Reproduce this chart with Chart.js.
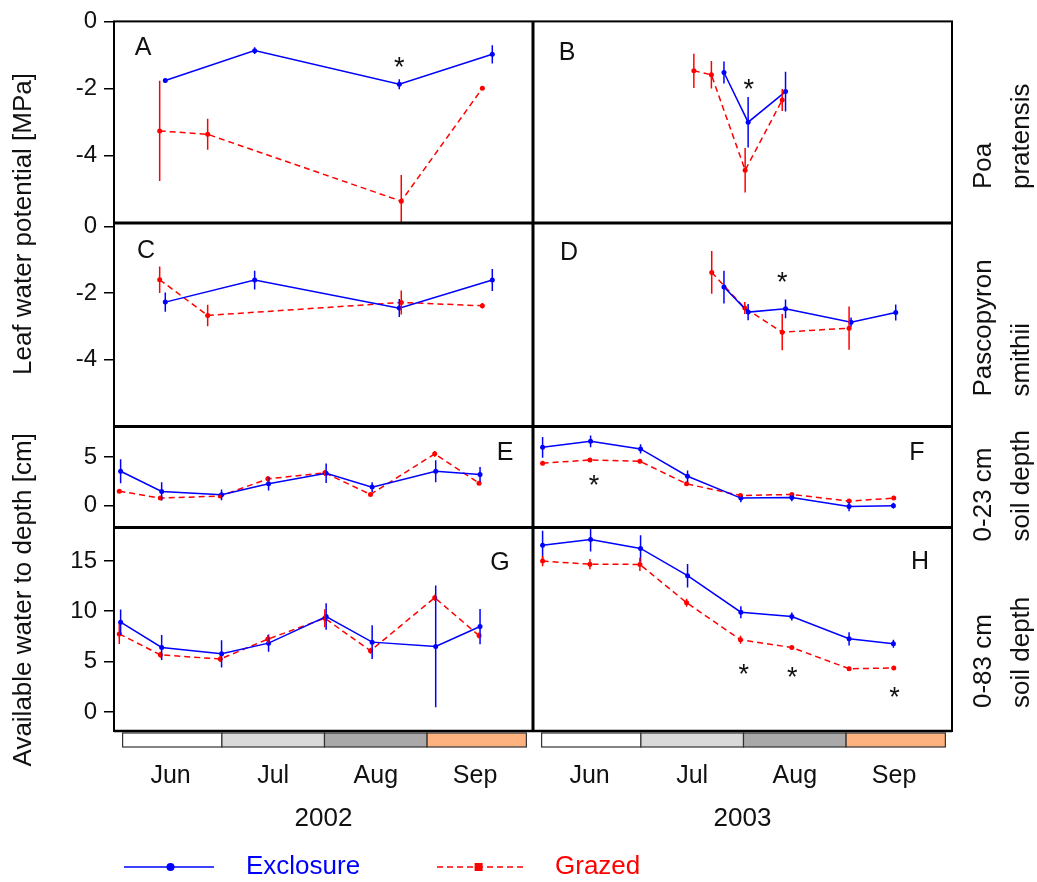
<!DOCTYPE html>
<html>
<head>
<meta charset="utf-8">
<title>Leaf water potential and available soil water</title>
<script src="https://cdn.jsdelivr.net/npm/chart.js@4.4.1/dist/chart.umd.min.js"></script>
<style>
  html, body { margin: 0; padding: 0; background: #fff; }
  #wrap { width: 1037px; height: 882px; }
</style>
</head>
<body>
<div id="wrap"><canvas id="fig" width="1037" height="882"></canvas></div>
<script>
// x values are days counted from 1 June of each season
const monthNames = ['Jun', 'Jul', 'Aug', 'Sep'];
const monthMid = [14.5, 45.5, 76.5, 106.5];
const monthEdges = [0, 30, 61, 92, 122];

const leafTicks = [0, -2, -4];
const soilTicks23 = [0, 5];
const soilTicks83 = [0, 5, 10, 15];

// 2002 leaf sampling dates
const leafExcDays2002 = [12.9, 39.9, 83.6, 111.7];
const leafGrzDays2002 = [11.2, 25.7, 84.2, 108.7];
// 2003 leaf sampling dates
const poaExcDays2003 = [55.1, 62.4, 73.7];
const poaGrzDays2003 = [46.0, 51.3, 61.5, 72.7];
const pascExcDays2003 = [55.1, 62.4, 73.7, 93.5, 107.0];
const pascGrzDays2003 = [51.4, 61.4, 72.7, 92.9];
// soil water dates
const soilExcDays2002 = [-0.6, 11.8, 29.9, 44.1, 61.5, 75.4, 94.6, 108.0];
const soilGrzDays2002 = [-1.0, 11.4, 29.5, 43.9, 61.1, 74.9, 94.3, 107.7];
const soilExcDays2003 = [0.3, 14.8, 29.9, 44.1, 60.2, 75.6, 92.9, 106.3];
const soilGrzDays2003 = [0.3, 14.6, 29.7, 43.8, 60.1, 75.6, 92.9, 106.4];

// Poa pratensis, leaf water potential (MPa) and SE
const poaExc2002 = [-1.76, -0.87, -1.87, -0.98];
const poaExcSe2002 = [0.05, 0.10, 0.15, 0.27];
const poaGrz2002 = [-3.26, -3.36, -5.35, -1.99];
const poaGrzSe2002 = [1.49, 0.46, 0.78, 0.05];
const poaExc2003 = [-1.52, -3.00, -2.09];
const poaExcSe2003 = [0.33, 0.75, 0.59];
const poaGrz2003 = [-1.47, -1.59, -4.43, -2.34];
const poaGrzSe2003 = [0.51, 0.41, 0.66, 0.33];

// Pascopyron smithii
const pascExc2002 = [-2.27, -1.61, -2.45, -1.61];
const pascExcSe2002 = [0.29, 0.28, 0.27, 0.33];
const pascGrz2002 = [-1.60, -2.67, -2.28, -2.38];
const pascGrzSe2002 = [0.40, 0.32, 0.36, 0.08];
const pascExc2003 = [-1.82, -2.57, -2.47, -2.87, -2.58];
const pascExcSe2003 = [0.49, 0.24, 0.28, 0.14, 0.24];
const pascGrz2003 = [-1.38, -2.45, -3.17, -3.05];
const pascGrzSe2003 = [0.64, 0.18, 0.54, 0.65];

// available water to 23 cm (cm)
const s23Exc2002 = [3.55, 1.45, 1.10, 2.24, 3.34, 1.90, 3.55, 3.20];
const s23ExcSe2002 = [1.24, 0.95, 0.55, 0.70, 1.00, 0.50, 1.15, 0.78];
const s23Grz2002 = [1.48, 0.76, 0.97, 2.76, 3.38, 1.14, 5.35, 2.31];
const s23GrzSe2002 = [0.20, 0.15, 0.15, 0.30, 0.30, 0.15, 0.30, 0.15];
const s23Exc2003 = [6.03, 6.65, 5.86, 3.03, 0.76, 0.83, -0.10, -0.03];
const s23ExcSe2003 = [1.07, 0.60, 0.48, 0.60, 0.43, 0.40, 0.50, 0.30];
const s23Grz2003 = [4.38, 4.72, 4.58, 2.24, 1.03, 1.14, 0.45, 0.76];
const s23GrzSe2003 = [0.20, 0.20, 0.20, 0.15, 0.15, 0.15, 0.10, 0.10];

// available water to 83 cm (cm)
const s83Exc2002 = [8.91, 6.40, 5.77, 6.83, 9.47, 6.93, 6.50, 8.48];
const s83ExcSe2002 = [1.27, 1.24, 1.35, 0.86, 1.32, 1.68, 6.05, 1.75];
const s83Grz2002 = [7.75, 5.67, 5.25, 7.23, 9.30, 6.07, 11.35, 7.58];
const s83GrzSe2002 = [1.00, 0.30, 0.30, 0.40, 0.90, 0.30, 0.30, 0.30];
const s83Exc2003 = [16.56, 17.13, 16.24, 13.53, 9.90, 9.47, 7.26, 6.76];
const s83ExcSe2003 = [1.44, 1.20, 1.32, 1.16, 0.60, 0.40, 0.66, 0.40];
const s83Grz2003 = [14.98, 14.68, 14.65, 10.85, 7.16, 6.40, 4.29, 4.36];
const s83GrzSe2003 = [0.50, 0.50, 0.66, 0.40, 0.40, 0.20, 0.20, 0.20];

// significant differences (x in days, y in panel units)
const starsA = [[83.6, -1.17]];
const starsB = [[62.6, -1.83]];
const starsD = [[72.7, -1.48]];
const starsF = [[15.8, 2.76]];
const starsH = [[61.1, 4.36], [75.7, 4.02], [106.6, 2.04]];

const BLUE = '#0000ff';
const RED = '#ff0000';
const FONT = "'Liberation Sans', Arial, sans-serif";

function series(days, vals, se, grazed, xID, yID) {
  const col = grazed ? RED : BLUE;
  return {
    data: days.map((d, i) => ({ x: d, y: vals[i] })),
    se: se,
    xAxisID: xID,
    yAxisID: yID,
    borderColor: col,
    backgroundColor: col,
    borderWidth: 1.5,
    borderDash: grazed ? [6, 4] : [],
    pointRadius: 2.5,
    pointBorderWidth: 0,
    pointBackgroundColor: col,
    pointHoverRadius: 0,
    tension: 0,
    fill: false
  };
}

const datasets = [
  series(leafExcDays2002, poaExc2002, poaExcSe2002, false, 'x2002', 'yA'),
  series(leafGrzDays2002, poaGrz2002, poaGrzSe2002, true, 'x2002', 'yA'),
  series(poaExcDays2003, poaExc2003, poaExcSe2003, false, 'x2003', 'yA'),
  series(poaGrzDays2003, poaGrz2003, poaGrzSe2003, true, 'x2003', 'yA'),
  series(leafExcDays2002, pascExc2002, pascExcSe2002, false, 'x2002', 'yC'),
  series(leafGrzDays2002, pascGrz2002, pascGrzSe2002, true, 'x2002', 'yC'),
  series(pascExcDays2003, pascExc2003, pascExcSe2003, false, 'x2003', 'yC'),
  series(pascGrzDays2003, pascGrz2003, pascGrzSe2003, true, 'x2003', 'yC'),
  series(soilExcDays2002, s23Exc2002, s23ExcSe2002, false, 'x2002', 'yE'),
  series(soilGrzDays2002, s23Grz2002, s23GrzSe2002, true, 'x2002', 'yE'),
  series(soilExcDays2003, s23Exc2003, s23ExcSe2003, false, 'x2003', 'yE'),
  series(soilGrzDays2003, s23Grz2003, s23GrzSe2003, true, 'x2003', 'yE'),
  series(soilExcDays2002, s83Exc2002, s83ExcSe2002, false, 'x2002', 'yG'),
  series(soilGrzDays2002, s83Grz2002, s83GrzSe2002, true, 'x2002', 'yG'),
  series(soilExcDays2003, s83Exc2003, s83ExcSe2003, false, 'x2003', 'yG'),
  series(soilGrzDays2003, s83Grz2003, s83GrzSe2003, true, 'x2003', 'yG')
];

function yAxis(min, max, tickVals, order, rowPx) {
  return {
    type: 'linear',
    position: 'left',
    stack: 'rows',
    stackWeight: rowPx,
    weight: order,
    min: min,
    max: max,
    afterBuildTicks: s => { s.ticks = tickVals.map(v => ({ value: v })); },
    afterFit: s => { s.width = 114; },
    grid: { drawOnChartArea: false, drawTicks: true, tickLength: 10, color: '#000', lineWidth: 1.5 },
    border: { display: false },
    ticks: { autoSkip: false, color: '#111', padding: 7, font: { family: FONT, size: 24 } }
  };
}

function xAxis(year, order) {
  return {
    type: 'linear',
    position: 'bottom',
    stack: 'cols',
    weight: order,
    min: -2.6,
    max: 124,
    afterBuildTicks: s => { s.ticks = monthMid.map(v => ({ value: v })); },
    afterFit: s => { s.height = 110; },
    grid: { display: false, drawTicks: false, tickLength: 0 },
    border: { display: false },
    ticks: {
      autoSkip: false, maxRotation: 0, color: '#111', padding: 30,
      font: { family: FONT, size: 25 },
      callback: v => monthNames[monthMid.indexOf(v)]
    },
    title: { display: true, text: year, color: '#111', font: { family: FONT, size: 26 }, padding: { top: 0, bottom: 7 } }
  };
}

const panels = [
  { x: 'x2002', y: 'yA', letter: 'A', lx: 29, ly: 27, side: 'left', stars: starsA },
  { x: 'x2003', y: 'yA', letter: 'B', lx: 34, ly: 32, side: 'left', stars: starsB },
  { x: 'x2002', y: 'yC', letter: 'C', lx: 32, ly: 28, side: 'left', stars: [] },
  { x: 'x2003', y: 'yC', letter: 'D', lx: 36, ly: 30, side: 'left', stars: starsD },
  { x: 'x2002', y: 'yE', letter: 'E', lx: 28, ly: 27, side: 'right', stars: [] },
  { x: 'x2003', y: 'yE', letter: 'F', lx: 35, ly: 27, side: 'right', stars: starsF },
  { x: 'x2002', y: 'yG', letter: 'G', lx: 33, ly: 36, side: 'right', stars: [] },
  { x: 'x2003', y: 'yG', letter: 'H', lx: 32, ly: 35, side: 'right', stars: starsH }
];

const rowLabels = [
  { y: 'yA', lines: ['Poa', 'pratensis'], start: -34 },
  { y: 'yC', lines: ['Pascopyron', 'smithii'], start: -30 },
  { y: 'yE', lines: ['0-23 cm', 'soil depth'], start: 14 },
  { y: 'yG', lines: ['0-83 cm', 'soil depth'], start: -23 }
];

const panelPlugin = {
  id: 'panels',
  beforeDraw(chart) {
    const ctx = chart.ctx;
    ctx.save();
    ctx.fillStyle = '#fff';
    ctx.fillRect(0, 0, chart.width, chart.height);
    ctx.restore();
  },
  afterDatasetsDraw(chart) {
    const ctx = chart.ctx;
    chart.data.datasets.forEach(ds => {
      const xs = chart.scales[ds.xAxisID];
      const ys = chart.scales[ds.yAxisID];
      ctx.save();
      ctx.beginPath();
      ctx.rect(xs.left, ys.top, xs.right - xs.left, ys.bottom - ys.top);
      ctx.clip();
      ctx.strokeStyle = ds.borderColor;
      ctx.lineWidth = 1.5;
      ds.data.forEach((p, j) => {
        const px = xs.getPixelForValue(p.x);
        ctx.beginPath();
        ctx.moveTo(px, ys.getPixelForValue(p.y - ds.se[j]));
        ctx.lineTo(px, ys.getPixelForValue(p.y + ds.se[j]));
        ctx.stroke();
      });
      ctx.restore();
    });
  },
  afterDraw(chart) {
    const ctx = chart.ctx;
    const area = chart.chartArea;
    const sc = chart.scales;
    ctx.save();

    // month bars under each season
    ['x2002', 'x2003'].forEach(id => {
      const xs = sc[id];
      const fills = ['#ffffff', '#d9d9d9', '#a9a9a9', '#fdb27f'];
      for (let m = 0; m < 4; m++) {
        const x0 = xs.getPixelForValue(monthEdges[m]);
        const x1 = xs.getPixelForValue(monthEdges[m + 1]);
        ctx.fillStyle = fills[m];
        ctx.fillRect(x0, area.bottom + 2, x1 - x0, 14);
        ctx.strokeStyle = '#333';
        ctx.lineWidth = 1.2;
        ctx.strokeRect(x0, area.bottom + 2, x1 - x0, 14);
      }
    });

    // panel frames
    ctx.strokeStyle = '#000';
    ctx.lineWidth = 2;
    ctx.strokeRect(area.left, area.top, area.right - area.left, area.bottom - area.top);
    ctx.lineWidth = 3;
    ctx.beginPath();
    ctx.moveTo(sc.x2003.left, area.top);
    ctx.lineTo(sc.x2003.left, area.bottom);
    ['yC', 'yE', 'yG'].forEach(id => {
      ctx.moveTo(area.left, sc[id].top);
      ctx.lineTo(area.right, sc[id].top);
    });
    ctx.stroke();
    ctx.lineWidth = 2.5;
    ctx.beginPath();
    ctx.moveTo(area.left, area.bottom);
    ctx.lineTo(area.right, area.bottom);
    ctx.stroke();

    // panel letters and significance stars
    ctx.fillStyle = '#111';
    ctx.textBaseline = 'middle';
    ctx.textAlign = 'center';
    panels.forEach(p => {
      const xs = sc[p.x], ys = sc[p.y];
      ctx.font = '25px ' + FONT;
      const lx = p.side === 'left' ? xs.left + p.lx : xs.right - p.lx;
      ctx.fillText(p.letter, lx, ys.top + p.ly);
      ctx.font = '27px ' + FONT;
      ctx.textBaseline = 'alphabetic';
      p.stars.forEach(s => {
        ctx.fillText('*', xs.getPixelForValue(s[0]), ys.getPixelForValue(s[1]) + 15);
      });
      ctx.textBaseline = 'middle';
    });

    // y axis titles, each spanning two rows
    ctx.font = '26px ' + FONT;
    const titles = [
      ['Leaf water potential [MPa]', (sc.yA.top + sc.yC.bottom) / 2],
      ['Available water to depth [cm]', (sc.yE.top + sc.yG.bottom) / 2 + 21]
    ];
    titles.forEach(t => {
      ctx.save();
      ctx.translate(24, t[1]);
      ctx.rotate(-Math.PI / 2);
      ctx.fillText(t[0], 0, 0);
      ctx.restore();
    });

    // species / depth labels on the right
    ctx.textAlign = 'left';
    rowLabels.forEach(r => {
      const y0 = sc[r.y].bottom + r.start;
      r.lines.forEach((line, i) => {
        ctx.save();
        ctx.translate(984 + i * 38, y0);
        ctx.rotate(-Math.PI / 2);
        ctx.fillText(line, 0, 0);
        ctx.restore();
      });
    });

    // legend
    const ly = 867;
    ctx.lineWidth = 1.5;
    ctx.strokeStyle = BLUE;
    ctx.setLineDash([]);
    ctx.beginPath(); ctx.moveTo(124, ly); ctx.lineTo(214, ly); ctx.stroke();
    ctx.fillStyle = BLUE;
    ctx.beginPath(); ctx.arc(170.5, ly, 4, 0, Math.PI * 2); ctx.fill();
    ctx.font = '26px ' + FONT;
    ctx.fillText('Exclosure', 246, ly);
    ctx.strokeStyle = RED;
    ctx.setLineDash([6, 4]);
    ctx.beginPath(); ctx.moveTo(437, ly); ctx.lineTo(524, ly); ctx.stroke();
    ctx.setLineDash([]);
    ctx.fillStyle = RED;
    ctx.fillRect(474.6, ly - 4, 8, 8);
    ctx.fillText('Grazed', 555, ly);

    ctx.restore();
  }
};

new Chart(document.getElementById('fig'), {
  type: 'line',
  data: { datasets: datasets },
  options: {
    responsive: false,
    animation: false,
    layout: { padding: { top: 20, left: 0, right: 85, bottom: 41 } },
    plugins: { legend: { display: false }, tooltip: { enabled: false } },
    scales: {
      x2002: xAxis('2002', 1),
      x2003: xAxis('2003', 2),
      yA: yAxis(-6, 0, leafTicks, 4, 202),
      yC: yAxis(-6, 0.1, leafTicks, 3, 204),
      yE: yAxis(-2.28, 8.18, soilTicks23, 2, 101),
      yG: yAxis(-1.9, 18.33, soilTicks83, 1, 204)
    }
  },
  plugins: [panelPlugin]
});
</script>
</body>
</html>
